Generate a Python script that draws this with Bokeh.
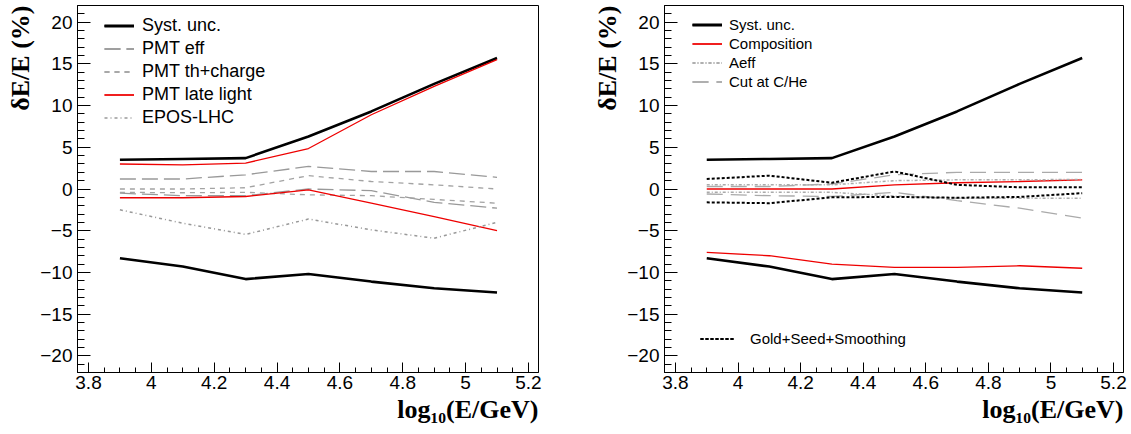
from bokeh.plotting import figure
from bokeh.models import Range1d, FixedTicker, Legend, LegendItem, Title
from bokeh.layouts import row
from bokeh.embed import file_html
from bokeh.resources import INLINE

# ---------------- data ----------------
log_e = [3.9, 4.1, 4.3, 4.5, 4.7, 4.9, 5.1]

syst_up = [3.5, 3.6, 3.7, 6.3, 9.3, 12.6, 15.7]
syst_lo = [-8.3, -9.3, -10.8, -10.2, -11.1, -11.9, -12.4]

# left panel
pmt_eff_up = [1.2, 1.2, 1.7, 2.7, 2.1, 2.1, 1.4]
pmt_eff_lo = [-0.5, -0.8, -0.8, 0.0, -0.2, -1.6, -2.3]
pmt_th_up = [0.0, 0.0, 0.15, 1.6, 0.9, 0.5, 0.0]
pmt_th_lo = [-0.4, -0.45, -0.4, -0.7, -0.8, -1.25, -1.7]
late_up = [3.0, 2.9, 3.1, 4.85, 8.9, 12.3, 15.5]
late_lo = [-1.05, -1.05, -0.9, -0.1, -1.7, -3.3, -5.0]
epos = [-2.5, -4.1, -5.45, -3.6, -4.9, -5.9, -4.0]

# right panel
comp_up = [0.0, 0.0, 0.0, 0.5, 0.75, 0.9, 1.1]
comp_lo = [-7.6, -8.0, -9.0, -9.4, -9.4, -9.2, -9.5]
aeff_up = [0.5, 0.5, 0.5, 1.0, 1.1, 1.1, 1.15]
aeff_lo = [-0.4, -0.4, -0.4, -0.85, -1.1, -1.1, -1.1]
cut_up = [0.3, 0.3, 0.6, 1.7, 2.0, 2.0, 2.0]
cut_lo = [-0.6, -0.8, -0.9, -0.4, -1.4, -2.3, -3.5]
gold_up = [1.2, 1.6, 0.75, 2.1, 0.5, 0.2, 0.2]
gold_lo = [-1.6, -1.7, -1.0, -0.95, -1.05, -0.95, -0.5]

x_ticks = [3.8, 4.0, 4.2, 4.4, 4.6, 4.8, 5.0, 5.2]
x_tick_labels = ["3.8", "4", "4.2", "4.4", "4.6", "4.8", "5", "5.2"]
y_ticks = [-20, -15, -10, -5, 0, 5, 10, 15, 20]
y_tick_labels = ["\u221220", "\u221215", "\u221210", "\u22125", "0", "5", "10", "15", "20"]

x_title = "log\u2081\u2080(E/GeV)"
y_title = "\u03b4E/E (%)"

# ---------------- layout constants ----------------
H = 434
TOP = 5
FRAME_H = 367
FRAME_W = 461
SANS = "Liberation Sans"
SERIF = "Liberation Serif"


def make_fig(width, bl, br):
    p = figure(width=width, height=H,
               x_range=Range1d(3.765, 5.232), y_range=Range1d(-22, 22),
               output_backend="svg", toolbar_location=None,
               min_border_left=bl, min_border_right=br,
               min_border_top=TOP, min_border_bottom=H - FRAME_H - TOP)
    p.background_fill_color = "white"
    p.border_fill_color = "white"
    p.outline_line_color = "black"
    p.outline_line_width = 1
    p.outline_line_alpha = 1
    p.xgrid.visible = False
    p.ygrid.visible = False

    xminor = [round(3.75 + 0.05 * i, 3) for i in range(31)]
    yminor = list(range(-22, 23))
    p.xaxis.ticker = FixedTicker(ticks=x_ticks, minor_ticks=xminor)
    p.yaxis.ticker = FixedTicker(ticks=y_ticks, minor_ticks=yminor)
    p.xaxis.major_label_overrides = {t: s for t, s in zip(x_ticks, x_tick_labels)}
    p.yaxis.major_label_overrides = {t: s for t, s in zip(y_ticks, y_tick_labels)}

    for ax in (p.xaxis, p.yaxis):
        ax.axis_line_color = "black"
        ax.major_tick_line_color = "black"
        ax.minor_tick_line_color = "black"
        ax.major_tick_out = 0
        ax.minor_tick_out = 0
        ax.major_label_text_font = SANS
        ax.major_label_text_font_size = "19px"
        ax.major_label_text_color = "black"
    p.xaxis.major_tick_in = 10
    p.xaxis.minor_tick_in = 5
    p.yaxis.major_tick_in = 13
    p.yaxis.minor_tick_in = 7
    p.xaxis.major_label_standoff = 3
    p.yaxis.major_label_standoff = 5

    p.add_layout(Title(text=x_title, align="right", text_font=SERIF,
                       text_font_style="bold", text_font_size="26px",
                       text_color="black", standoff=2), "below")
    p.add_layout(Title(text=y_title, align="right", text_font=SERIF,
                       text_font_style="bold", text_font_size="26px",
                       text_color="black", standoff=5), "left")
    return p


def legend(items, loc, font_size, gw, gh, standoff):
    return Legend(items=items, location=loc, label_text_font=SANS,
                  label_text_font_size=font_size, label_text_color="black",
                  glyph_width=gw, glyph_height=gh, label_height=gh,
                  label_standoff=standoff, spacing=0, padding=0, margin=0,
                  border_line_alpha=0, background_fill_alpha=0)


W1 = 588
# ---------------- left panel ----------------
p1 = make_fig(W1, 77, W1 - 77 - FRAME_W)
r_s1 = p1.line(log_e, syst_up, line_color="black", line_width=2.6)
r_s2 = p1.line(log_e, syst_lo, line_color="black", line_width=2.6)
r_e1 = p1.line(log_e, pmt_eff_up, line_color="#999999", line_width=1.3, line_dash="16 6")
r_e2 = p1.line(log_e, pmt_eff_lo, line_color="#999999", line_width=1.3, line_dash="16 6")
r_t1 = p1.line(log_e, pmt_th_up, line_color="#a3a3a3", line_width=1.3, line_dash="5 5")
r_t2 = p1.line(log_e, pmt_th_lo, line_color="#a3a3a3", line_width=1.3, line_dash="5 5")
r_l1 = p1.line(log_e, late_up, line_color="#ee0000", line_width=1.3)
r_l2 = p1.line(log_e, late_lo, line_color="#ee0000", line_width=1.3)
r_ep = p1.line(log_e, epos, line_color="#999999", line_width=1.5, line_dash="3 3 1 3")

leg1 = legend([
    LegendItem(label="Syst. unc.", renderers=[r_s1, r_s2]),
    LegendItem(label="PMT eff", renderers=[r_e1, r_e2]),
    LegendItem(label="PMT th+charge", renderers=[r_t1, r_t2]),
    LegendItem(label="PMT late light", renderers=[r_l1, r_l2]),
    LegendItem(label="EPOS-LHC", renderers=[r_ep]),
], (27, FRAME_H - 9 - 115), "18px", 30, 23, 8)
p1.add_layout(leg1)

# ---------------- right panel ----------------
p2 = make_fig(1131 - W1, 662 - W1, 1131 - 662 - FRAME_W)
q_s1 = p2.line(log_e, syst_up, line_color="black", line_width=2.6)
q_s2 = p2.line(log_e, syst_lo, line_color="black", line_width=2.6)
q_c1 = p2.line(log_e, comp_up, line_color="#ee0000", line_width=1.3)
q_c2 = p2.line(log_e, comp_lo, line_color="#ee0000", line_width=1.3)
q_a1 = p2.line(log_e, aeff_up, line_color="#aaaaaa", line_width=1.5, line_dash="3 2 1 2")
q_a2 = p2.line(log_e, aeff_lo, line_color="#aaaaaa", line_width=1.5, line_dash="3 2 1 2")
q_k1 = p2.line(log_e, cut_up, line_color="#aaaaaa", line_width=1.3, line_dash="16 8")
q_k2 = p2.line(log_e, cut_lo, line_color="#aaaaaa", line_width=1.3, line_dash="16 8")
q_g1 = p2.line(log_e, gold_up, line_color="black", line_width=2, line_dash="3 2")
q_g2 = p2.line(log_e, gold_lo, line_color="black", line_width=2, line_dash="3 2")

leg2 = legend([
    LegendItem(label="Syst. unc.", renderers=[q_s1, q_s2]),
    LegendItem(label="Composition", renderers=[q_c1, q_c2]),
    LegendItem(label="Aeff", renderers=[q_a1, q_a2]),
    LegendItem(label="Cut at C/He", renderers=[q_k1, q_k2]),
], (28, FRAME_H - 9.5 - 76), "15px", 30, 19, 7)
p2.add_layout(leg2)

leg3 = legend([
    LegendItem(label="Gold+Seed+Smoothing", renderers=[q_g1, q_g2]),
], (36, 24.2), "15px", 35, 19, 15)
p2.add_layout(leg3)

layout = row(p1, p2)
open("out.html", "w").write(file_html(layout, INLINE))
